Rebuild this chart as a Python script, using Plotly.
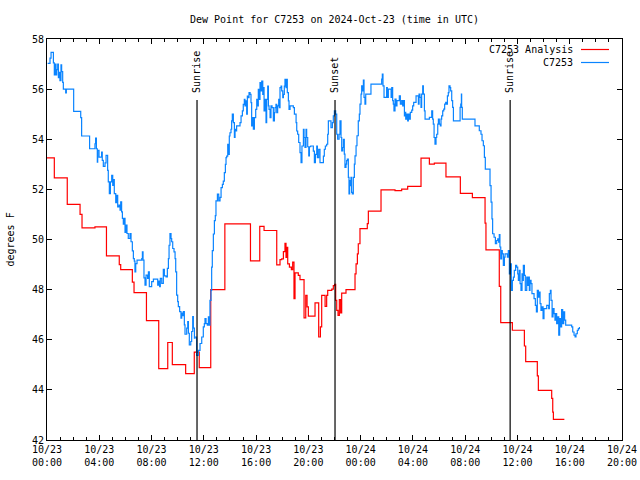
import pandas as pd
import plotly.graph_objects as go

# ---- data (hours since 2024-10-23 00:00 UTC, dew point in F) ----
analysis_hours = [0.0, 0.56, 1.55, 2.53, 2.68, 3.67, 4.55, 5.53, 5.64, 6.53, 6.66, 7.61, 8.55, 9.24,
                  9.59, 10.61, 11.27, 11.65, 12.53, 13.61, 15.57, 16.28, 16.61, 17.58, 17.83, 17.96,
                  18.09, 18.21, 18.29, 18.37, 18.42, 18.55, 18.70, 18.80, 18.90, 18.98, 19.23, 19.36,
                  19.67, 19.80, 19.90, 20.00, 20.51, 20.79, 20.92, 21.02, 21.28, 21.40, 21.48, 21.79,
                  21.91, 22.01, 22.09, 22.17, 22.27, 22.37, 22.47, 22.55, 22.88, 23.57, 23.65, 23.75,
                  23.82, 23.95, 24.51, 24.59, 25.56, 26.63, 27.14, 27.60, 28.62, 29.26, 29.64, 30.53,
                  31.63, 32.55, 33.52, 33.59, 34.61, 34.72, 35.61, 36.53, 36.63, 37.52, 37.60, 38.62,
                  38.70, 38.75, 39.59]
analysis_dewpt = [53.26, 52.46, 51.40, 51.0, 50.46, 50.5, 49.35, 49.0, 48.8, 48.3, 47.88, 46.76, 44.85, 45.89,
                  45.01, 44.65, 45.51, 44.89, 48.0, 50.62, 49.15, 50.52, 50.36, 48.99, 49.2, 49.23,
                  49.52, 49.85, 49.29, 49.69, 49.03, 48.9, 48.8, 49.1, 47.64, 48.67, 48.57, 48.4,
                  46.87, 47.77, 47.31, 46.94, 47.47, 46.11, 46.51, 47.77, 47.33, 47.77, 47.97, 48.02,
                  48.16, 48.21, 47.57, 47.17, 46.97, 47.6, 47.07, 47.86, 48.0, 48.63, 49.03, 49.43,
                  49.83, 50.43, 50.63, 51.13, 51.98, 51.95, 52.01, 52.12, 53.25, 53.01, 53.05, 52.5,
                  51.84, 51.67, 50.65, 49.59, 48.13, 46.68, 46.38, 45.75, 45.13, 44.56, 43.98, 43.66,
                  43.11, 42.82, 42.82]

obs_hours = [0.05, 0.23, 0.31, 0.49, 0.56, 0.61, 0.69, 0.74, 0.82, 0.87, 0.94, 0.99, 1.07, 1.12, 1.20,
             1.25, 1.43, 1.48, 2.04, 2.58, 2.65, 3.26, 3.67, 3.72, 3.78, 3.85, 3.88, 3.98, 4.18, 4.23,
             4.31, 4.44, 4.52, 4.64, 4.69, 4.77, 4.85, 4.95, 5.03, 5.08, 5.15, 5.26, 5.33, 5.41, 5.51,
             5.59, 5.64, 5.71, 5.77, 5.84, 5.92, 5.97, 6.05, 6.12, 6.22, 6.35, 6.43, 6.53, 6.61, 6.68,
             6.73, 6.79, 6.89, 7.25, 7.30, 7.35, 7.42, 7.50, 7.58, 7.70, 7.76, 7.83, 8.01, 8.14, 8.47,
             8.55, 8.62, 8.67, 8.78, 8.90, 8.98, 9.11, 9.21, 9.29, 9.34, 9.41, 9.49, 9.54, 9.62, 9.72,
             9.80, 9.85, 9.92, 10.00, 10.05, 10.15, 10.25, 10.31, 10.36, 10.43, 10.51, 10.56, 10.69,
             10.77, 10.82, 10.89, 11.00, 11.07, 11.15, 11.20, 11.28,
             11.33, 11.45, 11.58, 11.71, 11.84, 11.96, 12.04, 12.09, 12.17, 12.27, 12.35, 12.42, 12.47,
             12.55, 12.60, 12.65, 12.73, 12.81, 12.88, 12.93, 13.04, 13.14, 13.24, 13.32, 13.42, 13.49,
             13.57, 13.65, 13.70, 13.75, 13.83, 13.88, 13.95, 14.00, 14.08, 14.13, 14.18, 14.26, 14.34,
             14.39, 14.44, 14.51, 14.77, 14.85, 14.95, 15.02, 15.10, 15.15, 15.23, 15.28, 15.33, 15.41,
             15.46, 15.54, 15.61, 15.66, 15.74, 15.79, 15.87, 15.97, 16.05, 16.12, 16.17, 16.25, 16.30,
             16.38, 16.43, 16.51, 16.56, 16.61, 16.68, 16.76, 16.81, 16.89, 16.94, 16.99, 17.07, 17.14,
             17.22, 17.32, 17.40, 17.45, 17.52, 17.58, 17.65, 17.73, 17.78, 17.83, 17.91, 17.96, 18.04,
             18.09, 18.16, 18.21, 18.29, 18.34, 18.39, 18.47, 18.52, 18.60, 18.85, 18.93, 19.06, 19.11,
             19.18, 19.26, 19.36, 19.44, 19.51, 19.62, 19.67, 19.74, 19.82, 19.87, 19.95, 20.03, 20.08,
             20.18, 20.38, 20.46, 20.54, 20.64, 20.69, 20.79, 20.89, 21.15, 21.22, 21.30, 21.40, 21.48,
             21.53, 21.73, 21.84, 21.91, 21.99, 22.09, 22.17, 22.24, 22.35, 22.42,
             22.50, 22.55, 22.63, 22.68, 22.75, 22.80, 22.88, 22.93, 22.98, 23.06, 23.11, 23.16, 23.21,
             23.26, 23.31, 23.36, 23.44, 23.52, 23.57, 23.65, 23.72, 23.82, 23.90, 23.95, 24.03, 24.08,
             24.13, 24.21, 24.26, 24.33, 24.39, 24.79, 25.61, 25.66, 25.71, 25.79, 25.99, 26.04, 26.12,
             26.33, 26.38, 26.45, 26.50, 26.55, 26.63, 26.71, 26.78, 26.96, 27.04, 27.14, 27.22, 27.29,
             27.35, 27.40, 27.45, 27.52, 27.60, 27.65, 27.73, 27.80, 27.91, 27.98, 28.06, 28.24, 28.42,
             28.47, 28.54, 28.62, 28.67, 28.75, 28.80, 28.88, 28.93, 29.26, 29.44, 29.51, 29.56, 29.62,
             29.69, 29.77, 29.82, 29.90, 29.95, 30.02, 30.10, 30.15, 30.20, 30.28, 30.36, 30.43, 30.51,
             30.59, 30.64, 30.71, 30.76, 30.84, 30.89, 30.97, 31.04, 31.10, 31.61, 31.66, 31.71, 31.73,
             31.78,
             32.75, 33.08, 33.21, 33.29, 33.39, 33.47, 33.54, 33.90, 33.98, 34.05, 34.10, 34.21, 34.31,
             34.41, 34.49, 34.56, 34.61, 34.66, 34.72, 34.79, 34.84, 34.92, 35.00, 35.05, 35.23, 35.30,
             35.38, 35.46, 35.53, 35.61, 35.69, 35.76, 35.86, 35.94, 36.02, 36.07, 36.14, 36.20, 36.27,
             36.35, 36.40, 36.45, 36.53, 36.60, 36.71, 36.78, 36.86, 36.91, 36.96, 37.04, 37.11, 37.27,
             37.37, 37.45, 37.52, 37.60, 37.68, 37.73, 37.80, 37.88, 37.96, 38.03, 38.24, 38.39, 38.44,
             38.52, 38.57, 38.65, 38.72, 38.80, 38.87, 38.95, 39.00, 39.08, 39.16, 39.23, 39.31, 39.38,
             39.46, 39.54, 39.61, 39.69, 40.15, 40.23, 40.33, 40.41, 40.48, 40.58, 40.66, 40.74]
obs_dewpt = [57.03, 57.24, 57.47, 57.05, 56.57, 57.0, 56.57, 56.78, 57.0, 56.46, 56.67, 56.34, 56.97, 56.7, 56.27,
             56.0, 55.85, 56.0, 55.11, 54.86, 54.13, 53.62, 53.82, 54.05, 53.62, 53.09, 53.56, 53.29, 53.49, 53.16,
             52.92, 53.06, 53.36, 52.76, 52.3, 51.83, 52.3, 52.56, 52.16, 52.39, 51.83, 51.47, 51.76, 51.3, 51.37,
             51.17, 51.5, 51.1, 50.84, 50.61, 50.84, 50.28, 50.57, 50.24, 50.04, 50.24, 49.91, 49.55, 49.24, 49.14,
             48.71, 49.04, 49.18, 49.24, 49.51, 49.18, 48.47, 48.18, 48.58, 48.45, 48.71, 48.12, 48.32, 48.42, 48.18,
             48.34, 48.12, 48.45, 48.25, 48.81, 48.55, 48.51, 48.85, 49.24, 49.77, 50.24, 50.04, 49.91, 49.64, 49.51,
             49.24, 48.71, 47.78, 47.52, 47.32, 47.12, 46.86, 47.06, 46.96, 47.12, 46.59, 46.22, 46.46,
             46.72, 46.26, 45.79, 45.93, 46.33, 46.92, 46.46, 46.06,
             46.11, 45.38, 45.58, 45.85, 46.11, 46.51, 46.64, 46.84, 46.64, 46.58, 46.91, 46.58, 47.57,
             47.97, 48.9, 49.56, 50.22, 50.75, 50.95, 51.54, 51.81, 51.54, 51.68, 52.07, 52.2, 52.33,
             52.67, 53.0, 53.27, 53.33, 53.8, 53.4, 54.13, 54.26, 54.4, 54.73, 55.0, 54.66, 54.07,
             54.4, 54.33, 54.53, 54.66, 54.93, 55.13, 55.39, 55.59, 55.33, 55.53, 55.0, 55.72, 55.66,
             55.86, 55.79, 55.46, 54.53, 54.86, 54.4, 54.86, 55.19, 55.59, 55.33, 55.99, 55.59, 56.26,
             55.93, 56.32, 55.79, 56.06, 55.13, 55.59, 54.66, 55.59, 56.12, 55.33, 55.19, 54.86, 55.33,
             55.26, 54.73, 55.06, 55.26, 55.39, 55.06, 55.33, 55.59, 55.26, 56.06, 56.12, 55.93, 55.66,
             55.79, 56.12, 56.39, 56.06, 56.39, 55.86, 55.53, 55.19, 55.33, 55.26, 55.0, 54.66, 54.33,
             54.2, 53.87, 53.47, 53.07, 53.73, 54.4, 54.07, 53.67, 54.4, 54.07, 53.7, 53.34, 53.7,
             53.73, 53.53, 53.07, 53.4, 53.73, 53.27, 53.6, 53.07, 53.33, 53.6, 53.73, 53.8, 54.2,
             54.73, 54.46, 54.66, 54.93, 55.13, 55.0, 54.2, 54.0, 54.2, 54.73,
             54.07, 53.54, 53.67, 54.0, 53.41, 52.88, 53.01, 53.15, 53.21, 52.48, 51.82, 52.35, 52.15,
             52.48, 51.88, 51.82, 52.48, 53.01, 53.34, 53.74, 54.14, 54.73, 55.0, 55.4, 55.8, 56.13,
             55.93, 56.36, 55.67, 55.4, 55.8, 56.2, 56.4, 56.6, 56.13, 55.67, 56.06, 55.67, 56.0,
             55.67, 56.06, 55.54, 55.4, 55.13, 55.6, 55.33, 55.54, 55.73, 55.4, 55.54, 55.33, 55.54,
             54.93, 55.07, 54.8, 55.0, 54.73, 55.0, 54.8, 55.07, 55.16, 55.33, 55.47, 55.73, 55.4,
             55.8, 55.67, 55.27, 55.8, 56.13, 55.8, 55.13, 54.8, 54.87, 55.13, 54.8, 54.6, 54.07,
             53.8, 54.07, 54.2, 54.6, 54.8, 54.6, 54.53, 54.8, 54.93, 55.13, 55.2, 55.4, 55.47,
             55.4, 55.73, 55.86, 56.13, 56.06, 55.93, 55.54, 55.27, 54.73, 55.27, 55.4, 55.8, 55.27,
             54.8,
             54.53, 54.34, 54.2, 53.94, 53.74, 53.28, 52.81, 52.15, 51.49, 50.82, 50.23, 50.09, 49.83,
             49.96, 50.03, 49.89, 50.2, 49.7, 49.23, 49.56, 49.43, 48.97, 49.3, 49.43, 49.3, 49.56,
             48.63, 49.03, 47.97, 48.37, 48.5, 48.77, 48.97, 48.9, 48.63, 48.37, 48.77, 48.24, 47.97,
             48.63, 48.37, 48.97, 48.57, 47.97, 48.5, 48.17, 48.5, 47.97, 48.37, 48.24, 47.84, 47.64,
             47.37, 47.11, 47.97, 47.7, 47.9, 47.44, 47.17, 47.31, 46.84, 47.24, 47.37, 47.24, 47.84,
             47.97, 47.57, 46.91, 47.24, 47.04, 46.78, 47.04, 46.64, 46.91, 46.18, 46.84, 46.51, 47.2,
             46.64, 47.11, 46.78, 46.58, 46.51, 46.31, 46.18, 46.11, 46.24, 46.38, 46.44, 46.51]

sun_event_names = ["Sunrise", "Sunset", "Sunrise"]
sun_event_hours = [11.48, 22.04, 35.44]
sun_line_top = 55.57

tick_hours = [0, 4, 8, 12, 16, 20, 24, 28, 32, 36, 40, 44]
tick_labels = ["10/23<br>00:00", "10/23<br>04:00", "10/23<br>08:00", "10/23<br>12:00",
               "10/23<br>16:00", "10/23<br>20:00", "10/24<br>00:00", "10/24<br>04:00",
               "10/24<br>08:00", "10/24<br>12:00", "10/24<br>16:00", "10/24<br>20:00"]

y_ticks = [42, 44, 46, 48, 50, 52, 54, 56, 58]

# ---- conversion to timestamps ----
base = pd.Timestamp("2024-10-23 00:00:00")
to_time = lambda hrs: [base + pd.to_timedelta(h, unit="h") for h in hrs]

RED = "#ff0000"
BLUE = "#0a84ff"
FONT = "DejaVu Sans Mono"

fig = go.Figure()
fig.add_trace(go.Scatter(x=to_time(analysis_hours), y=analysis_dewpt, mode="lines",
                         line=dict(color=RED, width=1.2, shape="hv"), name="C7253 Analysis"))
fig.add_trace(go.Scatter(x=to_time(obs_hours), y=obs_dewpt, mode="lines",
                         line=dict(color=BLUE, width=1.2, shape="hv"), name="C7253"))

for name, t in zip(sun_event_names, to_time(sun_event_hours)):
    fig.add_shape(type="line", xref="x", yref="y", x0=t, x1=t, y0=42, y1=sun_line_top,
                  line=dict(color="black", width=1.2))
    fig.add_annotation(x=t, y=sun_line_top, xref="x", yref="y", text=name, textangle=-90,
                       showarrow=False, xanchor="center", yanchor="bottom", yshift=5,
                       font=dict(family=FONT, size=10, color="black"))

# manual legend (gnuplot style: right-aligned text, sample to the right)
legend_rows = [("C7253 Analysis", RED, 49.5), ("C7253", BLUE, 62.5)]
for label, col, ypix in legend_rows:
    yp = 1 - (ypix - 39) / 401
    fig.add_annotation(x=(575 - 47) / 575, y=yp, xref="paper", yref="paper", text=label,
                       showarrow=False, xanchor="right", yanchor="middle",
                       font=dict(family=FONT, size=10, color="black"))
    fig.add_shape(type="line", xref="paper", yref="paper",
                  x0=(581 - 47) / 575, x1=(609 - 47) / 575, y0=yp, y1=yp,
                  line=dict(color=col, width=1.2))

fig.add_annotation(x=(10 - 47) / 575, y=0.5, xref="paper", yref="paper", text="degrees F",
                   textangle=-90, showarrow=False, xanchor="center", yanchor="middle",
                   font=dict(family=FONT, size=10, color="black"))

fig.update_layout(
    width=640, height=480, autosize=False,
    margin=dict(l=47, r=18, t=39, b=40, autoexpand=False),
    paper_bgcolor="white", plot_bgcolor="white",
    showlegend=False,
    font=dict(family=FONT, size=10, color="black"),
    title=dict(text="Dew Point for C7253 on 2024-Oct-23 (time in UTC)", x=0.5, xref="paper",
               y=1 - 19 / 480, yanchor="middle", xanchor="center",
               font=dict(family=FONT, size=10, color="black")),
)
fig.update_xaxes(type="date", range=[base, base + pd.to_timedelta(44, unit="h")],
                 automargin=False,
                 tickvals=to_time(tick_hours), ticktext=tick_labels,
                 ticks="inside", ticklen=5, tickcolor="black", tickwidth=1,
                 showline=True, linecolor="black", linewidth=1, mirror="ticks",
                 showgrid=False, zeroline=False,
                 minor=dict(dtick=3600000, ticks="inside", ticklen=3, tickcolor="black", showgrid=False),
                 tickfont=dict(family=FONT, size=10, color="black"))
fig.update_yaxes(range=[42, 58], tickvals=y_ticks, ticktext=[str(v) for v in y_ticks],
                 automargin=False,
                 ticks="inside", ticklen=5, tickcolor="black", tickwidth=1,
                 showline=True, linecolor="black", linewidth=1, mirror="ticks",
                 showgrid=False, zeroline=False,
                 tickfont=dict(family=FONT, size=10, color="black"))

# remove the default page margin so the figure sits at the window origin
fig.write_html("out.html",
               config={"responsive": False, "displayModeBar": False},
               post_script="document.body.style.margin='0';")
